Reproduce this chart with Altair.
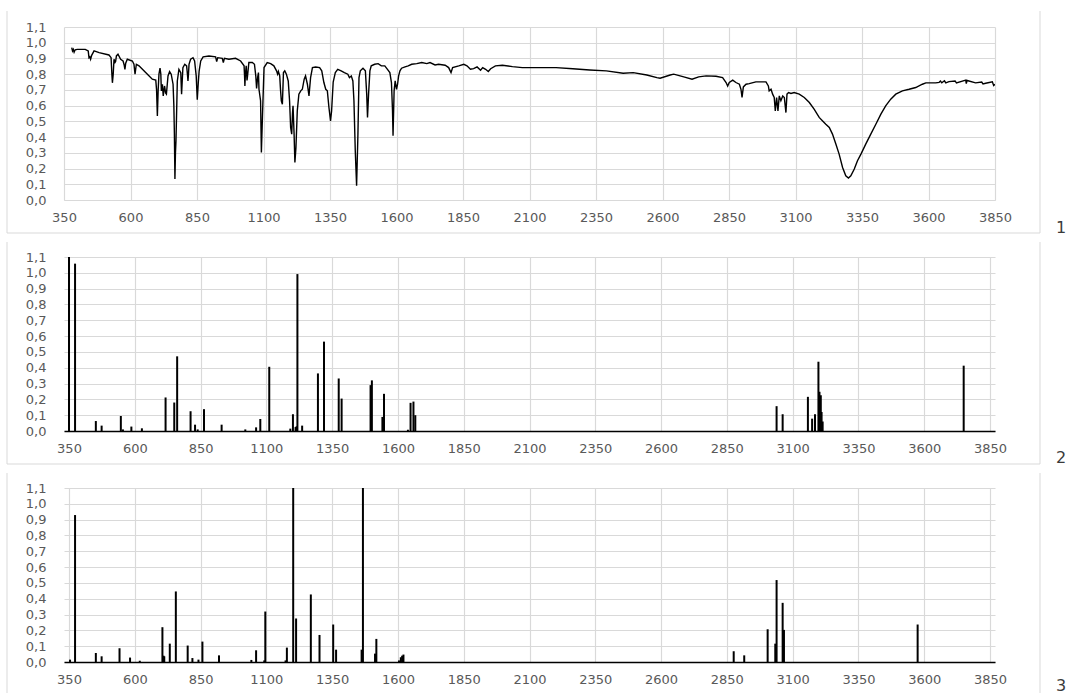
import altair as alt
import pandas as pd

# Panel 1: measured IR spectrum (wavenumber, cm-1 ; transmittance)
ir_spectrum = [
    (379, 0.969), (382, 0.948), (385, 0.958), (388, 0.940), (392, 0.955), (400, 0.958),
    (430, 0.958), (441, 0.948), (444, 0.905), (447, 0.910), (450, 0.895), (454, 0.920),
    (463, 0.948), (482, 0.937), (519, 0.922), (527, 0.905), (530, 0.800), (532, 0.745),
    (535, 0.800), (538, 0.895), (542, 0.875), (544, 0.880), (547, 0.916), (553, 0.927),
    (563, 0.895), (572, 0.884), (576, 0.860), (579, 0.831), (582, 0.870), (588, 0.895),
    (607, 0.884), (613, 0.863), (617, 0.800), (622, 0.863), (632, 0.853), (657, 0.810),
    (682, 0.768), (695, 0.762), (698, 0.700), (701, 0.535), (704, 0.700), (707, 0.800),
    (711, 0.838), (714, 0.800), (716, 0.694), (720, 0.736), (723, 0.662), (728, 0.725),
    (732, 0.680), (735, 0.673), (741, 0.789), (747, 0.817), (753, 0.800), (760, 0.736),
    (763, 0.600), (765, 0.420), (767, 0.133), (769, 0.300), (771, 0.377), (776, 0.757),
    (782, 0.831), (789, 0.810), (792, 0.673), (797, 0.842), (804, 0.863), (811, 0.853),
    (814, 0.800), (816, 0.757), (818, 0.800), (820, 0.863), (826, 0.895), (835, 0.905),
    (841, 0.884), (847, 0.789), (851, 0.637), (855, 0.750), (858, 0.820), (864, 0.884),
    (873, 0.910), (895, 0.916), (920, 0.910), (924, 0.880), (928, 0.905), (945, 0.901),
    (949, 0.874), (953, 0.901), (970, 0.895), (995, 0.901), (1014, 0.884), (1027, 0.853),
    (1029, 0.780), (1030, 0.725), (1032, 0.800), (1035, 0.853), (1038, 0.760), (1040, 0.789),
    (1045, 0.874), (1058, 0.874), (1066, 0.863), (1071, 0.789), (1074, 0.709), (1078, 0.780),
    (1081, 0.810), (1083, 0.704), (1089, 0.631), (1092, 0.302), (1096, 0.525), (1102, 0.842),
    (1114, 0.874), (1127, 0.867), (1139, 0.853), (1149, 0.821), (1153, 0.800), (1156, 0.817),
    (1161, 0.789), (1164, 0.700), (1167, 0.631), (1171, 0.609), (1175, 0.810), (1180, 0.821),
    (1186, 0.800), (1193, 0.757), (1198, 0.631), (1202, 0.461), (1206, 0.419), (1209, 0.550),
    (1211, 0.599), (1215, 0.419), (1218, 0.239), (1222, 0.334), (1227, 0.567), (1233, 0.673),
    (1240, 0.694), (1246, 0.704), (1253, 0.768), (1258, 0.789), (1265, 0.736), (1271, 0.662),
    (1277, 0.778), (1284, 0.842), (1296, 0.846), (1311, 0.842), (1319, 0.821), (1327, 0.747),
    (1334, 0.704), (1340, 0.694), (1346, 0.588), (1352, 0.503), (1356, 0.567), (1362, 0.750),
    (1370, 0.810), (1379, 0.831), (1392, 0.821), (1404, 0.810), (1417, 0.800), (1423, 0.778),
    (1430, 0.789), (1436, 0.757), (1440, 0.631), (1445, 0.313), (1450, 0.091), (1455, 0.419),
    (1459, 0.778), (1464, 0.821), (1474, 0.838), (1483, 0.821), (1488, 0.673), (1491, 0.525),
    (1495, 0.673), (1500, 0.821), (1505, 0.853), (1518, 0.863), (1531, 0.867), (1543, 0.853),
    (1556, 0.853), (1566, 0.831), (1575, 0.810), (1581, 0.747), (1585, 0.567), (1587, 0.408),
    (1591, 0.694), (1595, 0.757), (1600, 0.704), (1604, 0.736), (1608, 0.789), (1613, 0.821),
    (1619, 0.838), (1632, 0.846), (1644, 0.853), (1657, 0.863), (1676, 0.867), (1695, 0.874),
    (1714, 0.867), (1726, 0.874), (1745, 0.859), (1758, 0.863), (1783, 0.857), (1796, 0.842),
    (1805, 0.810), (1811, 0.842), (1834, 0.853), (1853, 0.863), (1865, 0.853), (1878, 0.831),
    (1890, 0.835), (1903, 0.846), (1916, 0.825), (1924, 0.842), (1935, 0.831), (1945, 0.817),
    (1954, 0.835), (1972, 0.853), (1998, 0.857), (2036, 0.848), (2073, 0.842), (2137, 0.842),
    (2200, 0.842), (2263, 0.835), (2326, 0.827), (2389, 0.821), (2452, 0.806), (2490, 0.810),
    (2541, 0.795), (2579, 0.778), (2591, 0.774), (2629, 0.795), (2642, 0.800), (2680, 0.783),
    (2711, 0.768), (2736, 0.783), (2764, 0.789), (2801, 0.787), (2826, 0.778), (2839, 0.747),
    (2845, 0.725), (2851, 0.747), (2864, 0.762), (2876, 0.747), (2889, 0.736), (2895, 0.704),
    (2899, 0.652), (2904, 0.719), (2914, 0.736), (2926, 0.740), (2951, 0.751), (2989, 0.751),
    (2998, 0.725), (3001, 0.694), (3008, 0.704), (3014, 0.673), (3020, 0.652), (3024, 0.567),
    (3029, 0.652), (3034, 0.567), (3039, 0.662), (3045, 0.631), (3052, 0.662), (3058, 0.652),
    (3064, 0.556), (3068, 0.673), (3074, 0.683), (3083, 0.677), (3095, 0.683), (3114, 0.673),
    (3133, 0.652), (3152, 0.620), (3170, 0.578), (3189, 0.525), (3202, 0.503), (3214, 0.482),
    (3227, 0.461), (3239, 0.419), (3252, 0.355), (3264, 0.292), (3277, 0.207), (3289, 0.154),
    (3299, 0.140), (3308, 0.154), (3321, 0.197), (3333, 0.250), (3346, 0.292), (3364, 0.355),
    (3383, 0.419), (3402, 0.482), (3421, 0.546), (3439, 0.599), (3458, 0.641), (3477, 0.673),
    (3502, 0.694), (3527, 0.704), (3552, 0.715), (3577, 0.736), (3590, 0.745), (3627, 0.745),
    (3640, 0.748), (3645, 0.756), (3650, 0.745), (3660, 0.758), (3665, 0.745), (3677, 0.753),
    (3700, 0.757), (3705, 0.745), (3740, 0.762), (3742, 0.740), (3745, 0.760), (3777, 0.745),
    (3800, 0.750), (3805, 0.738), (3815, 0.742), (3840, 0.752), (3845, 0.728), (3850, 0.736),
]

# Panel 2: calculated line positions and intensities
calc_2 = [
    (350, 1.10), (373, 1.058), (452, 0.063), (474, 0.034), (547, 0.095), (555, 0.010),
    (587, 0.028), (627, 0.017), (717, 0.212), (750, 0.180), (761, 0.472), (812, 0.125),
    (829, 0.040), (839, 0.010), (863, 0.138), (930, 0.040), (1020, 0.010), (1061, 0.023),
    (1077, 0.076), (1111, 0.406), (1191, 0.015), (1201, 0.106), (1211, 0.025), (1215, 0.030),
    (1218, 0.992), (1236, 0.034), (1296, 0.364), (1319, 0.565), (1375, 0.332), (1386, 0.205),
    (1496, 0.290), (1501, 0.320), (1541, 0.089), (1547, 0.235), (1638, 0.008), (1648, 0.178),
    (1659, 0.186), (1666, 0.100), (3039, 0.157), (3062, 0.106), (3158, 0.216), (3174, 0.078),
    (3185, 0.106), (3198, 0.438), (3202, 0.248), (3207, 0.226), (3210, 0.120), (3214, 0.060),
    (3750, 0.413),
]

# Panel 3: calculated line positions and intensities
calc_3 = [
    (354, 0.015), (373, 0.929), (452, 0.057), (474, 0.036), (542, 0.087), (582, 0.028),
    (619, 0.008), (705, 0.220), (709, 0.040), (712, 0.036), (733, 0.116), (756, 0.446),
    (801, 0.104), (819, 0.025), (842, 0.015), (857, 0.129), (920, 0.042), (1043, 0.013),
    (1061, 0.074), (1092, 0.010), (1096, 0.319), (1173, 0.010), (1178, 0.091), (1202, 1.10),
    (1213, 0.275), (1269, 0.427), (1302, 0.171), (1354, 0.237), (1365, 0.078), (1462, 0.078),
    (1467, 1.10), (1513, 0.053), (1518, 0.146), (1604, 0.010), (1611, 0.030), (1616, 0.040),
    (1621, 0.047), (2876, 0.068), (2916, 0.042), (3005, 0.207), (3034, 0.116), (3039, 0.518),
    (3062, 0.374), (3067, 0.203), (3575, 0.237),
]

x_ticks = [350, 600, 850, 1100, 1350, 1600, 1850, 2100, 2350, 2600, 2850, 3100, 3350, 3600, 3850]
y_ticks = [0.0, 0.1, 0.2, 0.3, 0.4, 0.5, 0.6, 0.7, 0.8, 0.9, 1.0, 1.1]
panel_labels = ["1", "2", "3"]

GRID = "#d9d9d9"
LABEL = "#595959"
FONT = "DejaVu Sans"
W = 931


def frame(df_top, df_bottom, with_bottom=True):
    """Light chart-area border around one panel (left, right and optional bottom edge)."""
    one = pd.DataFrame({"k": [0]})
    base = alt.Chart(one).mark_rule(color=GRID, strokeWidth=1)
    layers = [
        base.encode(x=alt.value(-57), y=alt.value(df_top), y2=alt.value(df_bottom)),
        base.encode(x=alt.value(976), y=alt.value(df_top), y2=alt.value(df_bottom)),
    ]
    if with_bottom:
        layers.append(base.encode(x=alt.value(-57), x2=alt.value(976), y=alt.value(df_bottom)))
    return layers


def x_enc(domain_color):
    return alt.X(
        "wn:Q",
        scale=alt.Scale(domain=[350, 3850], nice=False, zero=False),
        axis=alt.Axis(
            values=x_ticks, format="d", title=None, grid=True, gridColor=GRID, gridWidth=1.2,
            ticks=False, domain=True, domainColor=domain_color,
            domainWidth=1.4 if domain_color == "black" else 1.2,
            labelFont=FONT, labelFontSize=13, labelColor=LABEL,
            labelPadding=17, labelBaseline="middle", labelFlush=False, labelOverlap=False,
        ),
    )


def y_enc():
    return alt.Y(
        "val:Q",
        scale=alt.Scale(domain=[0, 1.1], nice=False, zero=True),
        axis=alt.Axis(
            values=y_ticks, title=None, grid=True, gridColor=GRID, gridWidth=1.2,
            ticks=False, domain=False,
            labelExpr="replace(format(datum.value, '.1f'), '.', ',')",
            labelFont=FONT, labelFontSize=13, labelColor=LABEL,
            labelPadding=18, labelFlush=False, labelOverlap=False,
        ),
    )


def number(text, y_pos, baseline="middle"):
    one = pd.DataFrame({"k": [0]})
    return alt.Chart(one).mark_text(
        text=text, font=FONT, fontSize=16, color="#3a3a3a", baseline=baseline
    ).encode(x=alt.value(997), y=alt.value(y_pos))


ir_df = pd.DataFrame(ir_spectrum, columns=["wn", "val"])
c2_df = pd.DataFrame(calc_2, columns=["wn", "val"])
c3_df = pd.DataFrame(calc_3, columns=["wn", "val"])

spectrum = alt.Chart(ir_df).mark_line(color="black", strokeWidth=1.4, clip=True).encode(
    x=x_enc(GRID), y=y_enc()
)
panel1 = alt.layer(
    *frame(-16, 206), spectrum, number(panel_labels[0], 201)
).properties(width=W, height=173)

sticks2 = alt.Chart(c2_df).mark_bar(color="black", size=2, clip=True).encode(
    x=x_enc("black"), y=y_enc()
)
panel2 = alt.layer(
    *frame(-15, 207), sticks2, number(panel_labels[1], 201)
).properties(width=W, height=174)

sticks3 = alt.Chart(c3_df).mark_bar(color="black", size=2, clip=True).encode(
    x=x_enc("black"), y=y_enc()
)
panel3 = alt.layer(
    *frame(-15, 206, with_bottom=False), sticks3, number(panel_labels[2], 206, "bottom")
).properties(width=W, height=174)

chart = (
    alt.vconcat(panel1, panel2, panel3, spacing=57, bounds="flush")
    .properties(padding={"left": 6, "top": 10, "right": 0, "bottom": 0}, background="white")
    .configure_view(stroke=None)
)

chart.save("out.html", embed_options={"renderer": "svg", "actions": False})
